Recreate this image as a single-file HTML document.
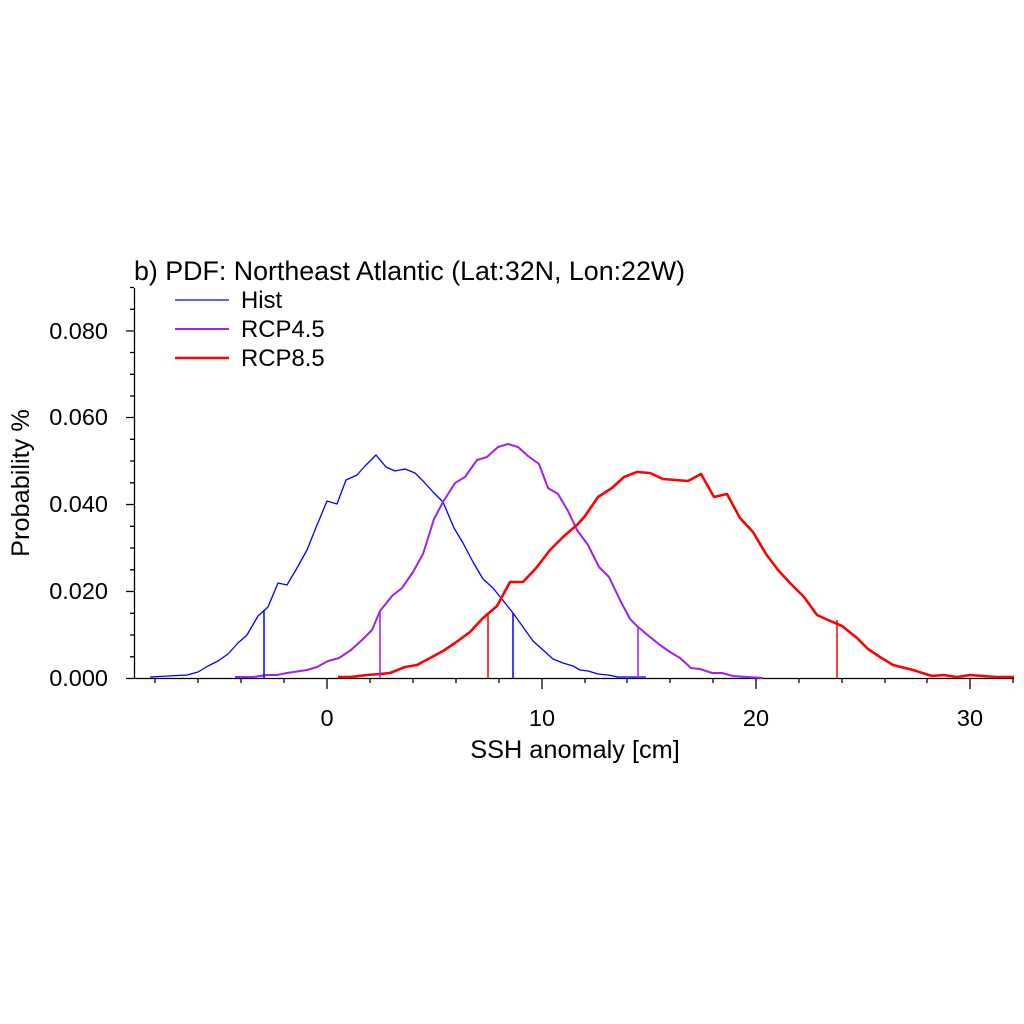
<!DOCTYPE html>
<html><head><meta charset="utf-8"><style>html,body{margin:0;padding:0;background:#fff}svg{display:block}text{font-family:"Liberation Sans",sans-serif;fill:#000}</style></head>
<body>
<svg width="1024" height="1024" viewBox="0 0 1024 1024" xmlns="http://www.w3.org/2000/svg">
<rect width="1024" height="1024" fill="#fff"/>
<g stroke="#000" stroke-width="1.3" fill="none">
<line x1="134.5" y1="288" x2="134.5" y2="678.5"/>
<line x1="134" y1="678.5" x2="1014" y2="678.5"/>
<path d="M126 678.5H134M126 591.5H134M126 504.5H134M126 417.5H134M126 331H134"/>
<path d="M130 656.8H134M130 635H134M130 613.3H134M130 569.8H134M130 548H134M130 526.3H134M130 482.8H134M130 461H134M130 439.3H134M130 396H134M130 374.3H134M130 352.5H134M130 309.3H134M130 287.5H134"/>
<path d="M327 678V689M542 678V689M756 678V689M970 678V689"/>
<path d="M155 678V683M198 678V683M241 678V683M284 678V683M370 678V683M413 678V683M456 678V683M499 678V683M585 678V683M627 678V683M670 678V683M713 678V683M799 678V683M842 678V683M885 678V683M927 678V683M1013 678V683"/>
</g>
<g font-size="23.5" text-anchor="end">
<text x="108" y="686">0.000</text><text x="108" y="599">0.020</text><text x="108" y="512">0.040</text><text x="108" y="425">0.060</text><text x="108" y="339">0.080</text>
</g>
<g font-size="23.5" text-anchor="middle">
<text x="327" y="726">0</text><text x="542" y="726">10</text><text x="756" y="726">20</text><text x="970" y="726">30</text>
</g>
<text x="575" y="758" font-size="25.3" text-anchor="middle">SSH anomaly [cm]</text>
<text transform="translate(29,483) rotate(-90)" font-size="25.3" text-anchor="middle">Probability %</text>
<text x="134" y="280" font-size="26.8">b) PDF: Northeast Atlantic (Lat:32N, Lon:22W)</text>
<g fill="none" stroke-linejoin="round">
<polyline stroke="#0000ff" stroke-width="1.3" points="150,677 187,675 198,672 208,666 218,661 228,654 238,643 247,635 258,616 268,607 278,583 287,585 297,568 307,550 315,530 327,501 337,504 346,480 357,475 365,466 376,455 386,467 395,471 405,469 415,473 423,481 433,492 443,502 454,528 463,543 473,562 483,579 493,588 513,613 533,641 543,650 553,659 563,663 573,666 580,670 588,671 598,674 608,675 618,677 627,677 646,677"/>
<polyline stroke="#a020f0" stroke-width="2" points="235,677 253,677 267,675 277,675 287,673 307,670 317,667 328,661 339,658 351,650 362,640 372,630 380,611 392,596 402,588 413,572 423,554 434,519 443,502 455,483 465,477 477,460 487,457 498,447 508,444 518,447 528,456 539,464 548,488 558,494 568,511 577,530 588,545 599,567 609,577 620,600 630,619 638,627 650,637 660,645 670,652 680,658 691,668 700,669 712,673 722,673 733,676 747,677 763,678"/>
<polyline stroke="#ff0000" stroke-width="2.6" points="338,677 350,677 367,675 380,674 390,673 405,667 417,665 430,658 443,651 455,643 470,632 483,618 497,606 510,582 523,582 537,567 550,550 563,537 578,524 585,516 598,497 612,488 624,477 637,472 650,473 663,479 688,481 701,474 714,497 727,494 740,518 753,532 766,554 778,570 790,583 804,597 817,615 828,620 842,626 857,638 868,649 880,657 893,665 913,670 932,676 943,675 957,677 970,675 983,676 997,677 1014,677"/>
</g>
<g stroke-width="1.5">
<line x1="264" y1="610" x2="264" y2="678" stroke="#0000ff"/>
<line x1="513" y1="613" x2="513" y2="678" stroke="#0000ff"/>
<line x1="380" y1="611" x2="380" y2="678" stroke="#a020f0"/>
<line x1="638" y1="627" x2="638" y2="678" stroke="#a020f0"/>
<line x1="488" y1="613" x2="488" y2="678" stroke="#ff0000"/>
<line x1="837" y1="620" x2="837" y2="678" stroke="#ff0000"/>
</g>
<line x1="175" y1="300" x2="229" y2="300" stroke="#0000ff" stroke-width="1.3"/>
<line x1="175" y1="329" x2="229" y2="329" stroke="#a020f0" stroke-width="2"/>
<line x1="175" y1="358" x2="229" y2="358" stroke="#ff0000" stroke-width="2.6"/>
<g font-size="23.9">
<text x="241" y="308">Hist</text><text x="241" y="337">RCP4.5</text><text x="241" y="366">RCP8.5</text>
</g>
</svg>
</body></html>
